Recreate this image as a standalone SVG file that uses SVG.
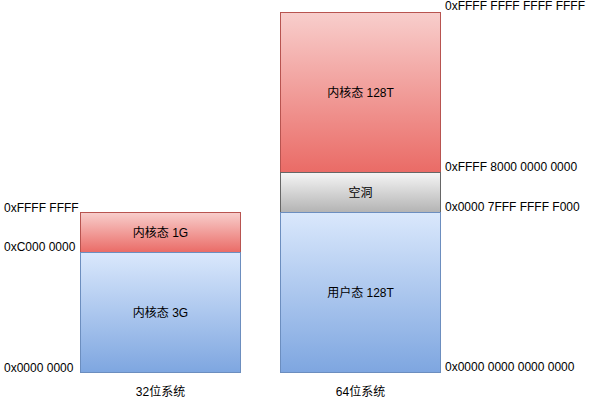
<svg xmlns="http://www.w3.org/2000/svg" width="591" height="403" viewBox="0 0 591 403">
<style>
text{font-family:"Liberation Sans","Noto Sans CJK SC",Arial,sans-serif;font-size:12px;fill:#000;}
.c{text-anchor:middle;dominant-baseline:central;}
.red{fill:url(#gr);stroke:#b85450;stroke-width:1;}
.blue{fill:url(#gb);stroke:#6c8ebf;stroke-width:1;}
.gray{fill:url(#gg);stroke:#666666;stroke-width:1;}
</style>
<defs>
<linearGradient id="gr" x1="0" y1="0" x2="0" y2="1"><stop offset="0" stop-color="#f8cecc"/><stop offset="1" stop-color="#ea6b66"/></linearGradient>
<linearGradient id="gb" x1="0" y1="0" x2="0" y2="1"><stop offset="0" stop-color="#dae8fc"/><stop offset="1" stop-color="#7ea6e0"/></linearGradient>
<linearGradient id="gg" x1="0" y1="0" x2="0" y2="1"><stop offset="0" stop-color="#f5f5f5"/><stop offset="1" stop-color="#b3b3b3"/></linearGradient>
</defs>
<g id="k32"><rect class="red" x="80.5" y="212.5" width="160" height="40"/><text class="c" x="160.5" y="232.5">内核态 1G</text></g>
<g id="u32"><rect class="blue" x="80.5" y="252.5" width="160" height="120"/><text class="c" x="160.5" y="312.5">内核态 3G</text></g>
<g id="k64"><rect class="red" x="280.5" y="12.5" width="160" height="160"/><text class="c" x="360.5" y="92.5">内核态 128T</text></g>
<g id="hole"><rect class="gray" x="280.5" y="172.5" width="160" height="40"/><text class="c" x="360.5" y="192.5">空洞</text></g>
<g id="u64"><rect class="blue" x="280.5" y="212.5" width="160" height="160"/><text class="c" x="360.5" y="292.5">用户态 128T</text></g>
<g id="labels">
<text x="4" y="212">0xFFFF FFFF</text>
<text x="4" y="251">0xC000 0000</text>
<text x="4" y="372">0x0000 0000</text>
<text x="445" y="10">0xFFFF FFFF FFFF FFFF</text>
<text x="445" y="171">0xFFFF 8000 0000 0000</text>
<text x="445" y="211">0x0000 7FFF FFFF F000</text>
<text x="445" y="371">0x0000 0000 0000 0000</text>
<text x="160.5" y="396" text-anchor="middle">32位系统</text>
<text x="360.5" y="396" text-anchor="middle">64位系统</text>
</g>
<g id="connectors"></g>
</svg>
